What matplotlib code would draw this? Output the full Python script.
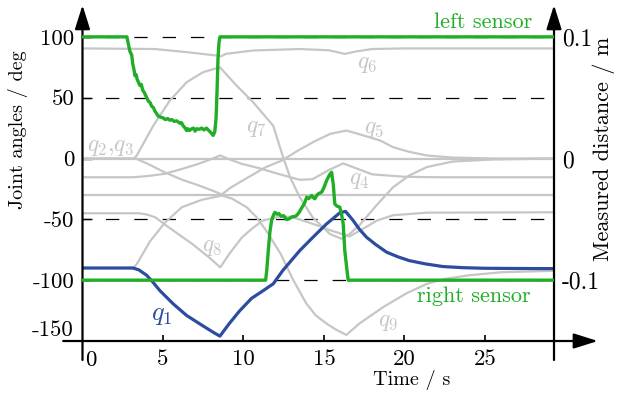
import matplotlib
matplotlib.use("Agg")
import numpy as np
import matplotlib.pyplot as plt

plt.rcParams['font.family'] = 'cmr10'
plt.rcParams['mathtext.fontset'] = 'cm'
plt.rcParams['axes.unicode_minus'] = False
plt.rcParams['axes.formatter.use_mathtext'] = True
plt.rcParams['lines.scale_dashes'] = False

GREEN = '#1fae26'
BLUE = '#2c4d9f'
GRAY = '#c6c6c6'

T_END = 29.3

# joint angles in deg, (time, value)
q1 = [(0, -90), (3.14, -90), (3.5, -91.5), (3.99, -96), (4.4, -102), (4.81, -108.6),
      (5.64, -119.5), (6.47, -129), (7.3, -136), (8.12, -142.8), (8.54, -146), (9.1, -136),
      (9.78, -125), (10.5, -115), (11.23, -108.6), (11.85, -103), (12.45, -92), (13.5, -75.7),
      (14.3, -65), (15.17, -53.7), (16.0, -44.5), (16.35, -43.5), (16.82, -51), (17.2, -58),
      (17.65, -64.7), (18.2, -70.5), (18.9, -77), (19.6, -80.8), (20.3, -83.9), (21.3, -86.6),
      (22.4, -88.8), (23.6, -89.7), (24.9, -90.2), (27.0, -90.4), (T_END, -90.5)]
q2 = [(0, 0), (T_END, 0)]
q3 = [(0, -30), (T_END, -30)]
q4 = [(0, -15.4), (3.1, -15.4), (4.0, -14.5), (5.1, -12.6), (6.2, -8.5), (7.2, -4.4),
      (8.0, -0.5), (8.56, 2.5), (9.2, -1), (9.9, -4.4), (11.0, -8), (12.0, -12),
      (13.5, -17.5), (14.3, -17), (15.3, -9.5), (16.2, -4), (17.0, -8), (18.0, -13),
      (20.0, -15), (22.0, -15.4), (T_END, -15.4)]
q5 = [(0, 0), (3.3, 0), (4.0, -4), (5.1, -11.3), (6.2, -17.5), (7.2, -22), (8.0, -26),
      (8.66, -29.5), (9.2, -24), (10.3, -15.4), (11.4, -7), (12.4, -1.6), (13.4, 6.6),
      (14.4, 14), (15.4, 20.3), (16.4, 23), (17.2, 20), (18.5, 14.8), (19.3, 9.3),
      (20.3, 5.5), (21.4, 2.5), (23.0, 0.8), (25.5, 0), (T_END, 0)]
q6 = [(0, 90.5), (4.5, 90), (6.5, 87.4), (8.3, 84.7), (8.6, 84), (8.9, 86), (10.6, 88.8),
      (13.5, 90), (15.3, 89), (16.3, 86), (17.0, 88), (18.0, 90), (20.0, 90.5), (T_END, 90.5)]
q7 = [(0, 0), (3.2, 0), (3.37, 2.5), (4.4, 27), (5.43, 47.7), (6.47, 62.7), (7.5, 71),
      (8.54, 75), (9.5, 61), (10.6, 46.3), (11.85, 27), (12.47, 1), (12.9, -15.4),
      (13.5, -31.8), (14.3, -48.3), (15.37, -62), (16.1, -66), (16.6, -62), (17.2, -55),
      (18.3, -38), (19.3, -23.6), (20.3, -14), (21.4, -7), (23.0, -2.5), (25.5, -0.8), (T_END, 0)]
q8 = [(0, -45), (3.5, -45), (4.0, -46), (4.52, -48.3), (5.35, -56.5), (6.8, -70),
      (7.84, -81), (8.56, -89.4), (9.2, -77), (9.9, -65), (10.5, -58), (11.2, -51),
      (12.3, -47.5), (13.0, -48), (13.7, -51), (14.6, -55), (15.4, -59), (16.6, -64),
      (17.4, -58), (18.3, -51), (19.3, -46.6), (21.4, -44.5), (T_END, -44.2)]
q9 = [(0, -90), (3.15, -90), (3.38, -86.6), (4.2, -68), (5.14, -52.4), (6.18, -40),
      (7.4, -34), (8.66, -30.4), (9.3, -33), (10.2, -40), (10.8, -48), (11.4, -59),
      (12.3, -78), (13.1, -100), (13.9, -119), (14.5, -129), (15.2, -136), (15.8, -141),
      (16.4, -145), (17.2, -135.7), (18.7, -122), (20.1, -111), (21.4, -103), (22.5, -99),
      (24.0, -96), (26.0, -93.5), (T_END, -92.3)]

# measured distances in m, (time, value)
left_sensor = [(0, 0.1), (2.76, 0.1), (2.85, 0.094), (2.95, 0.088), (3.06, 0.085), (3.12, 0.078),
               (3.2, 0.073), (3.26, 0.068), (3.33, 0.069), (3.4, 0.065), (3.5, 0.062), (3.57, 0.060),
               (3.65, 0.061), (3.75, 0.056), (3.85, 0.054), (3.99, 0.050), (4.1, 0.047), (4.2, 0.046),
               (4.3, 0.043), (4.4, 0.042), (4.5, 0.039), (4.6, 0.037), (4.7, 0.035), (4.85, 0.034),
               (5.0, 0.0335), (5.15, 0.032), (5.3, 0.0328), (5.43, 0.0315), (5.55, 0.032), (5.7, 0.0305),
               (5.85, 0.031), (6.05, 0.029), (6.15, 0.0295), (6.25, 0.027), (6.35, 0.0255), (6.47, 0.023),
               (6.55, 0.0245), (6.65, 0.023), (6.78, 0.0244), (6.9, 0.025), (7.0, 0.0225), (7.1, 0.0245),
               (7.25, 0.024), (7.4, 0.025), (7.55, 0.0235), (7.7, 0.025), (7.85, 0.023), (8.0, 0.021),
               (8.12, 0.019), (8.22, 0.022), (8.3, 0.033), (8.36, 0.055), (8.42, 0.082), (8.48, 0.095),
               (8.54, 0.1), (T_END, 0.1)]
right_sensor = [(0, -0.1), (11.38, -0.1), (11.45, -0.092), (11.55, -0.075), (11.65, -0.06),
                (11.75, -0.051), (11.88, -0.046), (11.96, -0.0442), (12.08, -0.0458), (12.2, -0.0452),
                (12.35, -0.0475), (12.5, -0.047), (12.68, -0.0502), (12.85, -0.0495), (13.0, -0.048),
                (13.15, -0.0478), (13.3, -0.0469), (13.45, -0.0445), (13.6, -0.041), (13.71, -0.0387),
                (13.82, -0.036), (13.93, -0.0318), (14.05, -0.033), (14.24, -0.0304), (14.35, -0.0322),
                (14.44, -0.0331), (14.55, -0.0305), (14.65, -0.029), (14.86, -0.0277), (15.0, -0.024),
                (15.17, -0.0181), (15.27, -0.0154), (15.38, -0.0128), (15.48, -0.0113), (15.58, -0.0208),
                (15.68, -0.0373), (15.8, -0.039), (15.99, -0.040), (16.1, -0.046), (16.2, -0.0537),
                (16.3, -0.0757), (16.42, -0.09), (16.51, -0.1), (T_END, -0.1)]

gray_joints = [q2, q3, q4, q5, q6, q7, q8, q9]
dash_levels = [100, 50, -50, -100]
yticks_left = [-100, -50, 0, 50, 100]
xticks = [5, 10, 15, 20, 25]
yticks_right = [-0.1, 0, 0.1]

fig = plt.figure(figsize=(6.17, 3.94), dpi=100)
ax = fig.add_axes([0.1337, 0.1345, 0.7642, 0.8442])
ax.set_xlim(0, T_END)
ax.set_ylim(-150, 123.4)
for s in ax.spines.values():
    s.set_visible(False)

for lv in dash_levels:
    ax.axhline(lv, color='k', lw=0.9, linestyle=(3.5, (9.6, 10.8)), zorder=1)

for q in gray_joints:
    t, v = np.array(q).T
    ax.plot(t, v, color=GRAY, lw=1.6, zorder=2, solid_capstyle='butt')
t, v = np.array(q1).T
ax.plot(t, v, color=BLUE, lw=2.3, zorder=3)

ax.set_xticks(xticks)
ax.set_xticklabels([str(x) for x in xticks])
ax.set_yticks(yticks_left)
ax.set_yticklabels(['-100', '-50', '0', '50', '100'])
ax.tick_params(axis='x', direction='in', length=4, width=1.2, pad=6, labelsize=16.5)
ax.tick_params(axis='y', direction='in', length=7, width=1.0, pad=6, labelsize=16.5)

ax.annotate('-150', xy=(0, -150), xytext=(-6.8, 7.6), textcoords='offset points',
            ha='right', va='center', fontsize=16.5, annotation_clip=False)
ax.annotate('0', xy=(0, -150), xytext=(6.1, -6.5), textcoords='offset points',
            ha='center', va='top', fontsize=16.5, annotation_clip=False)

ax2 = ax.twinx()
ax2.set_ylim(-0.150, 0.1234)
for s in ax2.spines.values():
    s.set_visible(False)
ax2.set_yticks(yticks_right)
ax2.set_yticklabels(['-0.1', '0', '0.1'])
ax2.tick_params(axis='y', length=0, pad=5.5, labelsize=17)
for data in (left_sensor, right_sensor):
    t, v = np.array(data).T
    ax2.plot(t, v, color=GREEN, lw=2.4, zorder=4)

# axis arrows
arrow = dict(arrowstyle='-|>,head_length=0.7,head_width=0.22', lw=1.6, color='k',
             mutation_scale=21, shrinkA=0, shrinkB=0)
ax.annotate('', xy=(0, 1.01), xytext=(0, -0.057), xycoords='axes fraction',
            arrowprops=arrow, annotation_clip=False)
ax.annotate('', xy=(1, 1.01), xytext=(1, -0.057), xycoords='axes fraction',
            arrowprops=arrow, annotation_clip=False)
ax.annotate('', xy=(1.093, 0), xytext=(-0.041, 0), xycoords='axes fraction',
            arrowprops=arrow, annotation_clip=False)

# labels
ax.text(24.9, 112, 'left sensor', color=GREEN, fontsize=16, ha='center', va='center')
ax.text(24.3, -113.5, 'right sensor', color=GREEN, fontsize=16, ha='center', va='center')
ax.text(17.7, 78, r'$q_6$', color=GRAY, fontsize=17, ha='center', va='center')
ax.text(18.1, 24.7, r'$q_5$', color=GRAY, fontsize=17, ha='center', va='center')
ax.text(10.8, 25.5, r'$q_7$', color=GRAY, fontsize=17, ha='center', va='center')
ax.text(0.25, 9.9, r'$q_2{,}q_3$', color=GRAY, fontsize=17, ha='left', va='center')
ax.text(17.2, -17.3, r'$q_4$', color=GRAY, fontsize=17, ha='center', va='center')
ax.text(8.05, -73, r'$q_8$', color=GRAY, fontsize=17, ha='center', va='center')
ax.text(19.0, -134, r'$q_9$', color=GRAY, fontsize=17, ha='center', va='center')
ax.text(4.9, -129, r'$q_1$', color=BLUE, fontsize=19, ha='center', va='center')

fig.text(412 / 617, 1 - 380 / 394, 'Time / s', fontsize=14.5, ha='center', va='center')
fig.text(18 / 617, 1 - 130 / 394, 'Joint angles / deg', fontsize=14.5, rotation=90,
         ha='center', va='center')
fig.text(604 / 617, 1 - 149 / 394, 'Measured distance / m', fontsize=16, rotation=90,
         ha='center', va='center')

fig.savefig('out.png', dpi=100)
